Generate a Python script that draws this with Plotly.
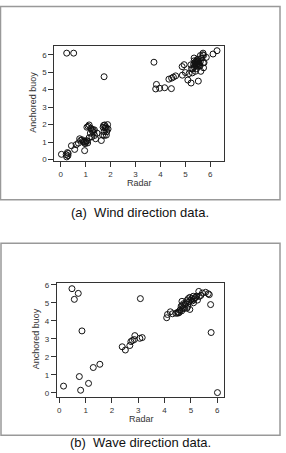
import plotly.graph_objects as go

W, H = 286, 453

# Wind direction data (radar vs anchored buoy), radians
wind_radar = [0.03, 0.22, 0.24, 0.27, 0.30, 0.29, 0.43, 0.56, 0.62, 0.71, 0.76, 0.80, 0.86, 0.90,
              0.93, 0.95, 0.98, 0.96, 1.00, 1.03, 1.06, 1.08, 1.05, 1.10, 1.14, 1.20, 1.23, 1.19,
              1.27, 1.30, 1.32, 1.36, 1.40, 1.46, 1.14, 1.25, 1.35, 1.63, 1.68, 1.70, 1.72, 1.76,
              1.78, 1.80, 1.83, 1.88, 1.75, 1.83, 1.74, 1.90, 1.85,
              0.24, 0.52, 1.74, 3.74, 3.84, 3.81, 3.97, 4.17, 4.44, 4.34, 4.45, 4.52, 4.61, 4.88,
              4.87, 4.95, 5.00, 5.15, 5.10, 5.23, 5.52, 5.22, 5.35, 5.40, 5.45, 5.48, 5.50, 5.52,
              5.44, 5.47, 5.55, 5.42, 5.38, 5.58, 5.50, 5.46, 5.53, 5.36, 5.60, 5.71, 5.73, 5.84,
              5.73, 5.72, 6.11, 6.27, 5.57, 5.30, 5.28, 5.40, 5.45, 5.62, 5.35, 5.33, 5.65, 5.60,
              5.70, 5.25, 5.75]
wind_buoy = [0.30, 0.28, 0.15, 0.40, 0.35, 0.22, 0.79, 0.58, 0.85, 0.94, 1.19, 1.10, 1.13, 1.05,
             0.98, 1.04, 0.91, 0.51, 1.00, 1.08, 1.06, 0.95, 1.85, 1.90, 1.98, 1.80, 1.75, 1.51,
             1.62, 1.70, 1.55, 1.38, 1.19, 1.51, 1.25, 1.30, 1.70, 1.09, 1.40, 1.85, 1.95, 1.98,
             1.80, 1.88, 1.79, 2.00, 1.38, 1.40, 1.60, 1.75, 1.60,
             6.09, 6.09, 4.74, 5.57, 4.30, 4.04, 4.08, 4.11, 4.06, 4.60, 4.66, 4.72, 4.79, 4.83,
             5.32, 5.43, 4.98, 4.92, 4.55, 4.38, 4.49, 5.42, 5.81, 5.50, 5.55, 5.60, 5.45, 5.65,
             5.38, 5.70, 5.52, 5.62, 5.45, 5.35, 5.75, 5.48, 5.40, 5.30, 5.60, 6.09, 5.96, 5.85,
             5.25, 5.53, 6.04, 6.23, 5.40, 5.19, 4.96, 5.05, 5.20, 5.05, 5.65, 5.45, 5.80, 5.95,
             6.00, 5.20, 5.55]

# Wave direction data
wave_radar = [0.16, 0.48, 0.57, 0.72, 0.86, 0.76, 0.81, 1.11, 1.29, 1.54, 2.39, 2.51, 2.68, 2.72,
              2.78, 2.85, 2.87, 3.06, 3.15, 3.08, 4.08, 4.11, 4.22, 4.30, 4.43, 4.51, 4.58, 4.63,
              4.66, 4.71, 4.77, 4.84, 4.90, 4.96, 5.03, 5.09, 5.15, 5.22, 5.30, 5.38, 5.44, 5.56,
              5.66, 5.70, 5.75, 5.77, 6.01, 4.96, 4.55, 4.60, 4.68, 4.75, 4.80, 4.88, 4.92, 5.00,
              5.05, 5.12, 5.18, 5.25, 5.32, 4.50, 4.65, 4.72, 4.85, 5.10]
wave_buoy = [0.38, 5.78, 5.19, 5.52, 3.44, 0.91, 0.15, 0.53, 1.41, 1.59, 2.56, 2.38, 2.63, 2.85,
             2.91, 2.96, 3.18, 3.03, 3.07, 5.23, 4.17, 4.35, 4.50, 4.39, 4.42, 4.48, 4.57, 4.81,
             5.08, 4.72, 4.90, 5.12, 5.23, 5.30, 5.23, 5.36, 5.27, 5.37, 5.63, 5.41, 5.54, 5.58,
             5.50, 5.45, 4.90, 3.35, 0.02, 4.63, 4.45, 4.62, 4.85, 4.68, 4.95, 4.80, 5.05, 5.15,
             5.10, 5.20, 5.30, 5.15, 5.35, 4.42, 4.55, 4.95, 4.70, 5.00]

x_ticks = [0, 1, 2, 3, 4, 5, 6]
y_ticks = [0, 1, 2, 3, 4, 5, 6]
captions = ["(a)  Wind direction data.", "(b)  Wave direction data."]
x_title = "Radar"
y_title = "Anchored buoy"

def px(x):
    return x / W

def py(y):
    return 1 - y / H

marker = dict(symbol="circle-open", size=6, color="#111111", line=dict(width=1, color="#111111"))

fig = go.Figure()
fig.add_trace(go.Scatter(x=wind_radar, y=wind_buoy, mode="markers", marker=marker,
                         xaxis="x", yaxis="y", showlegend=False))
fig.add_trace(go.Scatter(x=wave_radar, y=wave_buoy, mode="markers", marker=marker,
                         xaxis="x2", yaxis="y2", showlegend=False))

axis_common = dict(showgrid=False, zeroline=False, showline=True, linecolor="#333333",
                   linewidth=1, mirror=True, ticks="outside", ticklen=5, tickwidth=1,
                   tickcolor="#333333", tickfont=dict(family="Liberation Sans, Arial", size=8,
                                                      color="#333333"),
                   tickvals=x_ticks)

fig.update_layout(
    width=W, height=H, margin=dict(l=0, r=0, t=0, b=0),
    paper_bgcolor="white", plot_bgcolor="white",
    xaxis=dict(axis_common, domain=[px(54.3), px(224)], range=[-0.257, 6.55], anchor="y"),
    yaxis=dict(axis_common, domain=[py(161), py(44.3)], range=[-0.096, 6.51], anchor="x",
               tickvals=y_ticks),
    xaxis2=dict(axis_common, domain=[px(56.7), px(224.3)], range=[-0.10, 6.27], anchor="y2"),
    yaxis2=dict(axis_common, domain=[py(399.7), py(283.7)], range=[-0.24, 6.12], anchor="x2",
                tickvals=y_ticks),
)

frame = dict(type="rect", xref="paper", yref="paper", line=dict(color="#999999", width=1.5),
             fillcolor="rgba(0,0,0,0)", layer="below")
fig.add_shape(frame, x0=px(0.5), x1=px(280), y0=py(200), y1=py(4.5))
fig.add_shape(frame, x0=px(1), x1=px(280), y0=py(438), y1=py(244))

font_small = dict(family="Liberation Sans, Arial", size=9, color="#333333")
font_cap = dict(family="Liberation Sans, Arial", size=13, color="#111111")
ann = [
    dict(text=x_title, x=px(139), y=py(183), font=font_small),
    dict(text=y_title, x=px(33), y=py(102), font=font_small, textangle=-90),
    dict(text=x_title, x=px(141), y=py(422), font=font_small),
    dict(text=y_title, x=px(36), y=py(341), font=font_small, textangle=-90),
    dict(text=captions[0], x=px(140), y=py(213), font=font_cap),
    dict(text=captions[1], x=px(140), y=py(445), font=font_cap),
]
for a in ann:
    fig.add_annotation(xref="paper", yref="paper", showarrow=False, xanchor="center",
                       yanchor="middle", **a)

fig.write_html("out.html")
